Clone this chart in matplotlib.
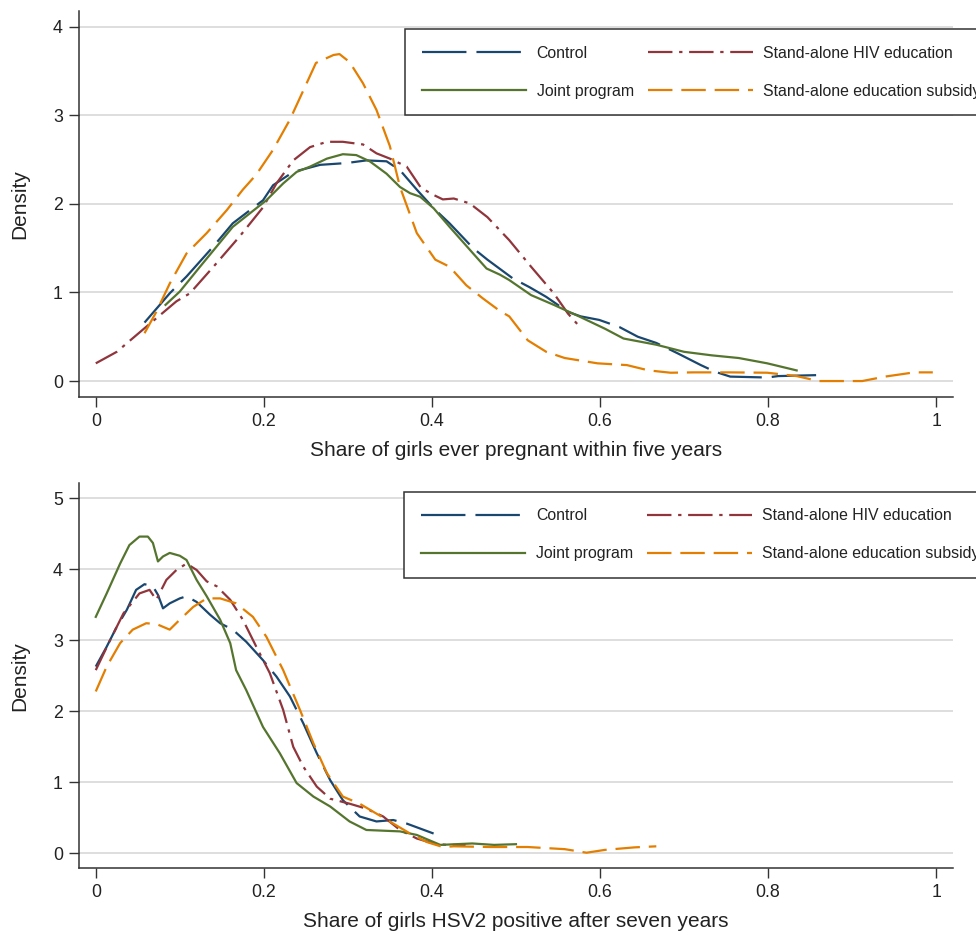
from matplotlib import pyplot as plt

plt.rcParams['font.family'] = ['Liberation Sans', 'DejaVu Sans']

# series names and styles
names = ['Control', 'Stand-alone HIV education', 'Joint program', 'Stand-alone education subsidy']
colors = ['#1a476f', '#90353b', '#55752f', '#e37e00']
dashes = [(20, 4.5), (11, 3, 1.5, 3), None, (11, 4)]

# top panel: share of girls ever pregnant within five years
preg_ctrl_x = [0.058, 0.088, 0.108, 0.140, 0.163, 0.199, 0.211, 0.235, 0.267, 0.298, 0.322, 0.346, 0.362, 0.382,
               0.402, 0.421, 0.449, 0.466, 0.496, 0.516, 0.536, 0.562, 0.577, 0.599, 0.623, 0.645, 0.667, 0.693,
               0.720, 0.737, 0.755, 0.799, 0.812, 0.863]
preg_ctrl_y = [0.66, 0.99, 1.18, 1.52, 1.78, 2.04, 2.21, 2.36, 2.44, 2.46, 2.49, 2.48, 2.38, 2.16,
               1.95, 1.78, 1.50, 1.37, 1.16, 1.06, 0.95, 0.78, 0.73, 0.69, 0.61, 0.50, 0.43, 0.31,
               0.18, 0.105, 0.05, 0.04, 0.056, 0.068]
preg_hiv_x = [0, 0.025, 0.056, 0.076, 0.096, 0.112, 0.140, 0.171, 0.199, 0.215, 0.235, 0.255, 0.275, 0.294,
              0.318, 0.334, 0.350, 0.361, 0.370, 0.387, 0.402, 0.413, 0.426, 0.445, 0.466, 0.481, 0.492, 0.518,
              0.545, 0.562, 0.578]
preg_hiv_y = [0.20, 0.33, 0.58, 0.74, 0.90, 0.99, 1.29, 1.63, 1.96, 2.23, 2.49, 2.64, 2.70, 2.70,
              2.67, 2.57, 2.51, 2.46, 2.42, 2.18, 2.10, 2.05, 2.06, 2.005, 1.85, 1.70, 1.59, 1.29,
              0.99, 0.76, 0.59]
preg_joint_x = [0.083, 0.100, 0.124, 0.144, 0.163, 0.183, 0.203, 0.223, 0.239, 0.255, 0.275, 0.294, 0.310,
                0.326, 0.346, 0.362, 0.374, 0.386, 0.402, 0.421, 0.449, 0.465, 0.481, 0.492, 0.518, 0.545,
                0.575, 0.606, 0.628, 0.667, 0.700, 0.733, 0.765, 0.799, 0.834]
preg_joint_y = [0.86, 1.01, 1.29, 1.52, 1.74, 1.89, 2.04, 2.23, 2.36, 2.42, 2.51, 2.56, 2.55,
                2.48, 2.34, 2.19, 2.12, 2.08, 1.95, 1.74, 1.44, 1.27, 1.20, 1.14, 0.97, 0.86,
                0.73, 0.59, 0.48, 0.41, 0.33, 0.29, 0.26, 0.20, 0.12]
preg_sub_x = [0.058, 0.072, 0.088, 0.108, 0.132, 0.156, 0.175, 0.191, 0.211, 0.231, 0.247, 0.262, 0.283, 0.290,
              0.302, 0.318, 0.334, 0.350, 0.362, 0.382, 0.404, 0.421, 0.441, 0.461, 0.481, 0.492, 0.514, 0.536,
              0.558, 0.597, 0.632, 0.658, 0.684, 0.711, 0.755, 0.799, 0.834, 0.860, 0.912, 0.939, 0.974, 0.996]
preg_sub_y = [0.54, 0.78, 1.10, 1.44, 1.67, 1.93, 2.16, 2.33, 2.61, 2.95, 3.28, 3.59, 3.68, 3.69,
              3.60, 3.36, 3.06, 2.65, 2.19, 1.67, 1.37, 1.29, 1.08, 0.93, 0.79, 0.73, 0.46, 0.33,
              0.26, 0.20, 0.18, 0.12, 0.094, 0.098, 0.098, 0.094, 0.056, 0.0, 0.0, 0.05, 0.098, 0.098]

# bottom panel: share of girls HSV2 positive after seven years
hsv_ctrl_x = [0, 0.013, 0.025, 0.037, 0.048, 0.058, 0.068, 0.074, 0.080, 0.088, 0.100, 0.108, 0.120, 0.136,
              0.148, 0.163, 0.179, 0.199, 0.215, 0.231, 0.247, 0.263, 0.279, 0.294, 0.314, 0.334, 0.354, 0.370,
              0.386, 0.402]
hsv_ctrl_y = [2.63, 2.91, 3.19, 3.43, 3.71, 3.79, 3.76, 3.64, 3.45, 3.52, 3.59, 3.62, 3.54, 3.36,
              3.24, 3.15, 2.98, 2.72, 2.49, 2.21, 1.83, 1.41, 1.03, 0.75, 0.52, 0.45, 0.47, 0.42,
              0.35, 0.28]
hsv_hiv_x = [0, 0.017, 0.033, 0.052, 0.064, 0.072, 0.084, 0.096, 0.108, 0.120, 0.132, 0.144, 0.160, 0.175,
             0.191, 0.207, 0.223, 0.235, 0.247, 0.263, 0.279, 0.302, 0.322, 0.342, 0.362, 0.382, 0.402, 0.417, 0.44]
hsv_hiv_y = [2.58, 3.00, 3.38, 3.66, 3.71, 3.57, 3.85, 3.99, 4.08, 3.99, 3.83, 3.76, 3.57, 3.29,
             2.91, 2.54, 2.02, 1.50, 1.22, 0.94, 0.77, 0.70, 0.63, 0.52, 0.33, 0.21, 0.14, 0.12, 0.12]
hsv_joint_x = [0, 0.013, 0.029, 0.040, 0.052, 0.062, 0.068, 0.074, 0.080, 0.088, 0.100, 0.108, 0.120, 0.132,
               0.148, 0.160, 0.167, 0.179, 0.199, 0.219, 0.239, 0.259, 0.279, 0.302, 0.322, 0.362, 0.382, 0.410,
               0.448, 0.474, 0.500]
hsv_joint_y = [3.33, 3.66, 4.08, 4.34, 4.46, 4.46, 4.37, 4.11, 4.18, 4.23, 4.19, 4.13, 3.85, 3.62,
               3.29, 2.96, 2.58, 2.30, 1.78, 1.41, 0.99, 0.80, 0.66, 0.45, 0.33, 0.31, 0.26, 0.12,
               0.14, 0.12, 0.13]
hsv_sub_x = [0, 0.013, 0.029, 0.044, 0.060, 0.072, 0.088, 0.100, 0.116, 0.132, 0.148, 0.167, 0.187, 0.203,
             0.223, 0.243, 0.259, 0.275, 0.294, 0.314, 0.334, 0.354, 0.374, 0.394, 0.413, 0.426, 0.470, 0.514,
             0.558, 0.584, 0.606, 0.641, 0.667]
hsv_sub_y = [2.28, 2.63, 2.96, 3.15, 3.24, 3.23, 3.15, 3.29, 3.47, 3.59, 3.59, 3.52, 3.33, 3.05,
             2.58, 2.02, 1.55, 1.13, 0.80, 0.70, 0.56, 0.42, 0.28, 0.16, 0.09, 0.10, 0.09, 0.09,
             0.06, 0.01, 0.05, 0.085, 0.10]

x_ticks = [0, 0.2, 0.4, 0.6, 0.8, 1]
x_tick_labels = ['0', '0.2', '0.4', '0.6', '0.8', '1']


def density_panel(ax, series, xlabel, yticks, ylim, legend_anchor):
    lines = []
    for (xs, ys), name, c, d in zip(series, names, colors, dashes):
        line, = ax.plot(xs, ys, color=c, lw=1.6, label=name)
        if d is not None:
            line.set_dashes(d)
        lines.append(line)
    ax.set_xlim(-0.02, 1.02)
    ax.set_ylim(*ylim)
    ax.set_xticks(x_ticks)
    ax.set_xticklabels(x_tick_labels)
    ax.set_yticks(yticks)
    ax.grid(axis='y', color='#d4d4d4', lw=1.1)
    ax.set_axisbelow(True)
    for s in ['top', 'right']:
        ax.spines[s].set_visible(False)
    for s in ['left', 'bottom']:
        ax.spines[s].set_color('#333333')
        ax.spines[s].set_linewidth(1.1)
    ax.tick_params(length=7.5, width=1.0, color='#333333', labelsize=12.8, labelcolor='#222222', pad=4)
    ax.set_xlabel(xlabel, fontsize=15, color='#222222', labelpad=8)
    ax.set_ylabel('Density', fontsize=15, color='#222222', labelpad=17)
    # legend fills by column, so reorder to get rows Control|HIV, Joint|Subsidy
    order = [0, 2, 1, 3]
    leg = ax.legend([lines[i] for i in order], [names[i] for i in order],
                    loc='upper left', bbox_to_anchor=legend_anchor, borderaxespad=0, ncol=2,
                    fontsize=11.4, handlelength=6.6, handletextpad=0.67, columnspacing=0.9,
                    labelspacing=1.45, borderpad=1.05, fancybox=False, framealpha=1)
    leg.get_frame().set_edgecolor('#333333')
    leg.get_frame().set_linewidth(1.1)
    for t in leg.get_texts():
        t.set_color('#222222')


fig = plt.figure(figsize=(9.76, 9.35), dpi=100)
ax1 = fig.add_axes([0.0809, 0.5754, 0.8955, 0.4132])
ax2 = fig.add_axes([0.0809, 0.0713, 0.8955, 0.4118])

density_panel(ax1,
              [(preg_ctrl_x, preg_ctrl_y), (preg_hiv_x, preg_hiv_y),
               (preg_joint_x, preg_joint_y), (preg_sub_x, preg_sub_y)],
              'Share of girls ever pregnant within five years',
              [0, 1, 2, 3, 4], (-0.18, 4.18), (0.373, 0.9526))
density_panel(ax2,
              [(hsv_ctrl_x, hsv_ctrl_y), (hsv_hiv_x, hsv_hiv_y),
               (hsv_joint_x, hsv_joint_y), (hsv_sub_x, hsv_sub_y)],
              'Share of girls HSV2 positive after seven years',
              [0, 1, 2, 3, 4, 5], (-0.21, 5.21), (0.372, 0.978))

fig.savefig('out.png', dpi=100)
